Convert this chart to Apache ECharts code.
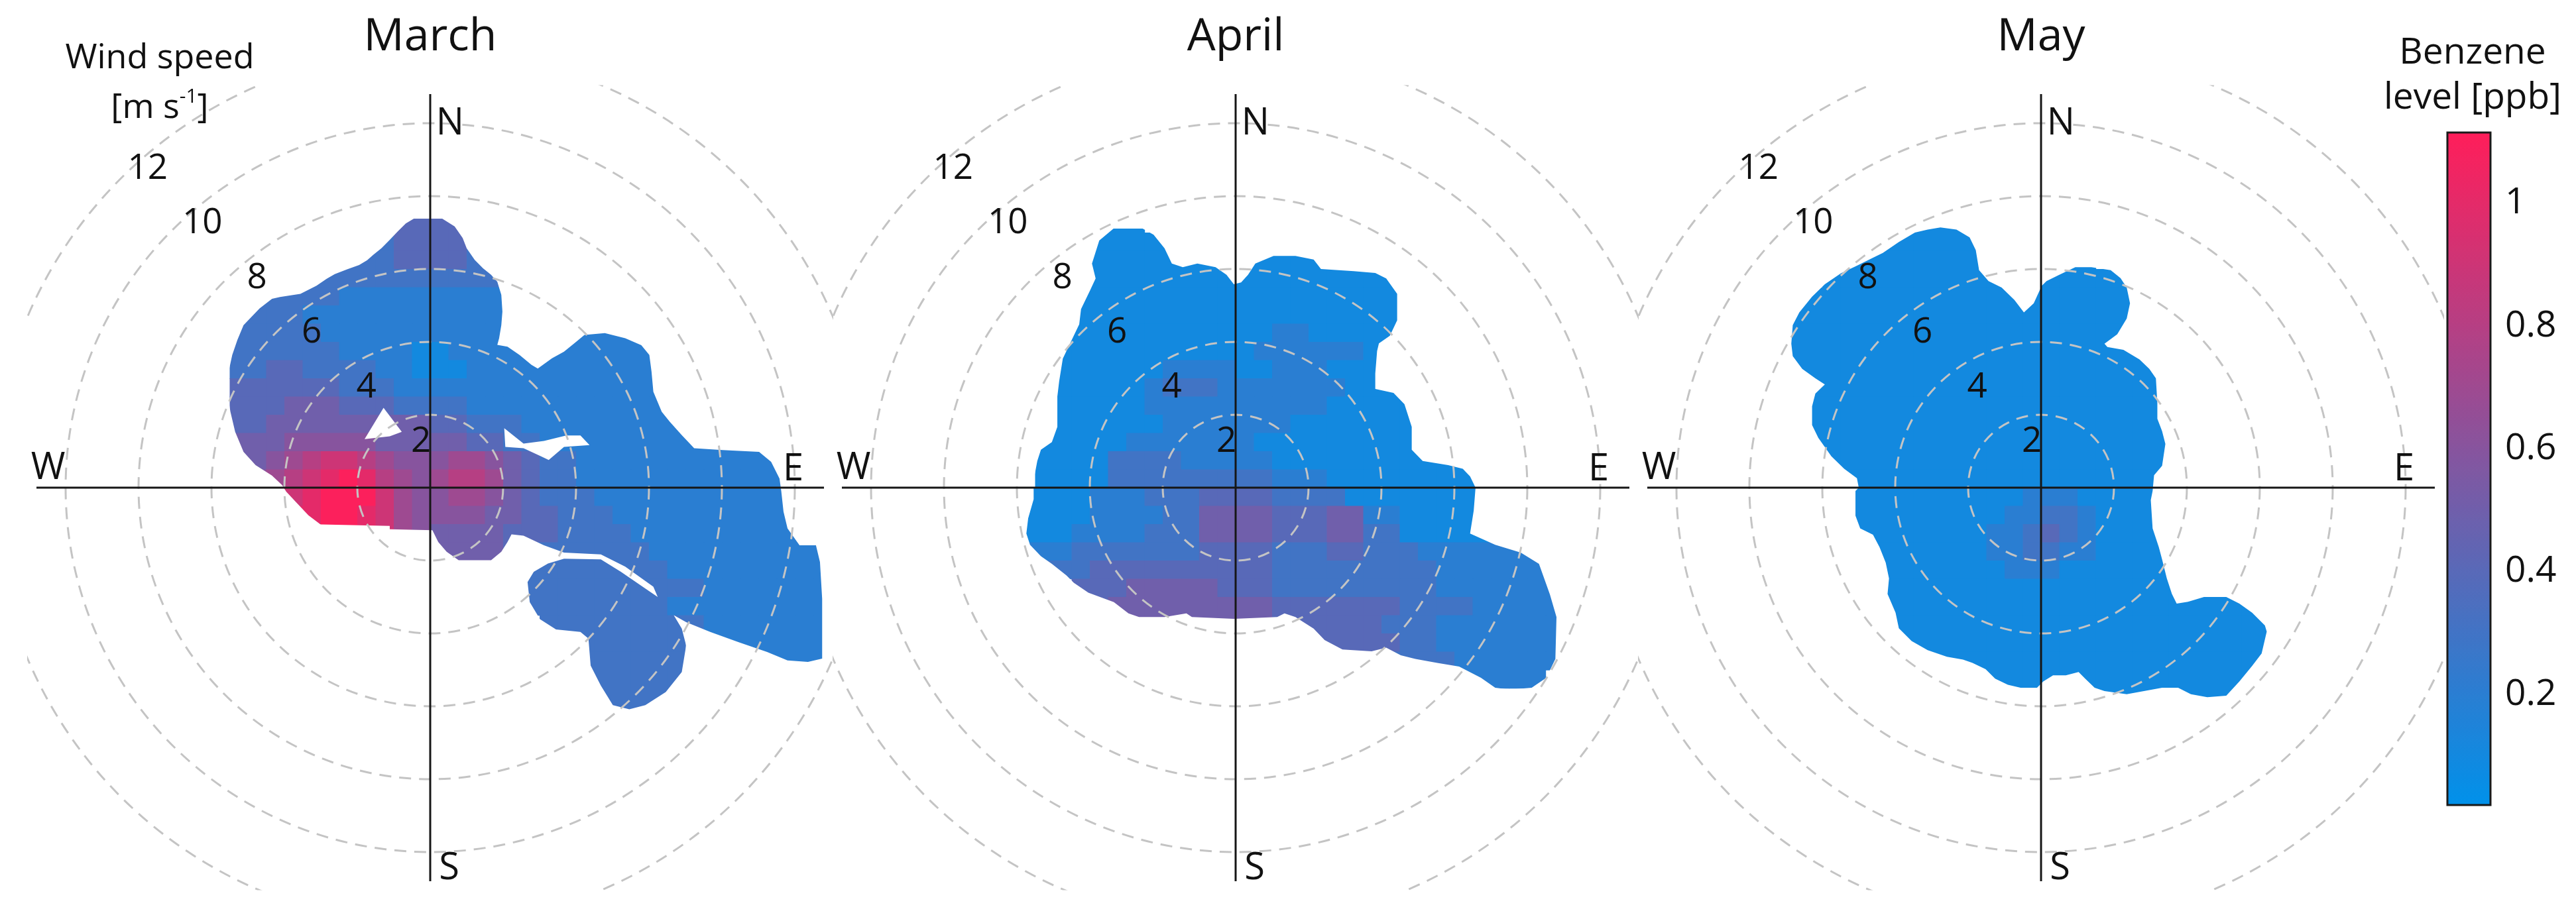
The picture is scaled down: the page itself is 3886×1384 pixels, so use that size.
<!DOCTYPE html>
<html>
<head>
<meta charset="utf-8">
<title>Benzene polar plots</title>
<script src="https://cdn.jsdelivr.net/npm/echarts@6/dist/echarts.min.js"></script>
<style>
  html, body { margin: 0; padding: 0; background: #fff; }
  #chart { width: 3886px; height: 1384px; }
</style>
</head>
<body>
<div id="chart"></div>
<script>
// ---- values ----
const months = ['March', 'April', 'May'];
const ringSpeeds = [2, 4, 6, 8, 10, 12];          // m/s
const compassPoints = [['N', 0, 1], ['E', 1, 0], ['S', 0, -1], ['W', -1, 0]];
const armLength = 10.8;                            // m/s
const colorTicks = [0.2, 0.4, 0.6, 0.8, 1];
const benzeneMin = 0.02;
const benzeneMax = 1.115;

// benzene surface on a 0.5 m/s (u, v) grid.
// each row: [first column, values]; one char per cell, hex digit / 10 = ppb
const cellSize = 0.5;
const marchOrigin = [-5.75, 7.25];
const marchRows = [
  [[10, '4444']],
  [[9, '344443']],
  [[7, '33344443']],
  [[5, '33333333333']],
  [[2, '33333222222222']],
  [[1, '333322222222222']],
  [[1, '333332222222222'], [20, '2222']],
  [[1, '333333222211222222222222']],
  [[1, '334433332211122222222222']],
  [[1, '444444333222222222222222']],
  [[1, '444555444333322222222222']],
  [[1, '4455555555544333222222222']],
  [[1, '55566666555554433222222222222']],
  [[1, '556789987666776543322222222222']],
  [[2, '6789ABA87678875433222222222222']],
  [[4, '9ABBB976677654333222222222222']],
  [[4, 'AABBA97666655443332222222222']],
  [[6, 'BBA976555544433332222222222']],
  [[12, '55554'], [17, '33333332222222222']],
  [[17, '33333333222222222']],
  [[17, '33333333332222222']],
  [[17, '33333333222222222']],
  [[18, '3333333332222222']],
  [[20, '333333'], [27, '2222222']],
  [[20, '333333'], [30, '2222']],
  [[20, '333333']],
  [[21, '33333']],
  [[22, '33']]
];
// outer edge of the surface and the gaps inside it, (u, v) in m/s
const marchOutline = [
  [-0.45, 7.38], [0.33, 7.38], [0.67, 7.17], [0.89, 6.85], [1.0, 6.57], [1.22, 6.25], [1.45, 6.02],
  [1.67, 5.84], [1.84, 5.65], [1.95, 5.29], [1.98, 4.83], [1.95, 4.46], [1.89, 4.1], [1.84, 3.92],
  [2.12, 3.87], [2.45, 3.64], [2.78, 3.37], [2.95, 3.27], [3.34, 3.55], [3.67, 3.73], [4.0, 4.0],
  [4.23, 4.19], [4.79, 4.24], [5.35, 4.1], [5.79, 3.91], [6.01, 3.64], [6.07, 3.18], [6.12, 2.63],
  [6.35, 2.08], [6.57, 1.81], [6.9, 1.44], [7.24, 1.08], [8.02, 1.03], [9.02, 0.98], [9.35, 0.71],
  [9.58, 0.25], [9.63, -0.11], [9.69, -0.66], [9.8, -1.12], [10.13, -1.58], [10.58, -1.58],
  [10.69, -2.04], [10.75, -3.05], [10.75, -4.69], [10.36, -4.78], [9.8, -4.74], [9.24, -4.51],
  [8.46, -4.24], [7.68, -3.96], [7.02, -3.69], [6.68, -3.5], [6.9, -3.87], [7.02, -4.33],
  [6.9, -5.06], [6.46, -5.61], [5.9, -5.97], [5.46, -6.08], [5.01, -5.97], [4.68, -5.43],
  [4.4, -4.88], [4.34, -4.14], [4.12, -3.96], [3.45, -3.89], [3.01, -3.61], [2.73, -3.14],
  [2.67, -2.59], [2.84, -2.31], [3.23, -2.08], [3.67, -1.95], [4.68, -1.97], [5.23, -2.31],
  [5.9, -2.77], [6.24, -3.0], [6.12, -2.72], [5.35, -2.17], [4.68, -1.83], [3.67, -1.78],
  [3.12, -1.58], [2.56, -1.32], [2.23, -1.28], [2.12, -1.49], [1.95, -1.76], [1.67, -1.99],
  [0.78, -1.99], [0.45, -1.76], [0.22, -1.49], [0.06, -1.17], [-1.11, -1.14], [-1.11, -1.05],
  [-3.01, -1.01], [-3.34, -0.76], [-3.67, -0.41], [-3.95, -0.11], [-4.06, 0.07], [-4.34, 0.33],
  [-4.79, 0.62], [-5.12, 0.98], [-5.35, 1.53], [-5.48, 2.08], [-5.57, 2.63], [-5.53, 3.18],
  [-5.43, 3.64], [-5.29, 4.05], [-5.12, 4.46], [-4.68, 4.92], [-4.34, 5.18], [-4.12, 5.23],
  [-3.56, 5.32], [-3.12, 5.54], [-2.84, 5.73], [-2.62, 5.86], [-2.28, 5.99], [-1.95, 6.11],
  [-1.73, 6.24], [-1.56, 6.39], [-1.34, 6.57], [-1.11, 6.8], [-0.89, 7.03], [-0.67, 7.25]
];
const marchHoles = [
  [[-1.28, 2.19], [-0.78, 1.53], [-1.11, 1.41], [-1.8, 1.33]],
  [[2.03, 1.63], [2.56, 1.21], [3.12, 1.28], [3.73, 1.43], [4.12, 1.43], [4.37, 1.17], [3.67, 1.12],
   [3.25, 0.76], [3.06, 0.85], [2.56, 1.08], [2.06, 1.12]]
];

const aprilOrigin = [-5.75, 7.25];
const aprilRows = [
  [[5, '11']],
  [[4, '11111']],
  [[4, '1111111111111']],
  [[4, '11111111111111111']],
  [[3, '111111111111111111']],
  [[3, '111111111111111111']],
  [[2, '1111111111112211111']],
  [[2, '111111111112222221']],
  [[2, '111111222211222111']],
  [[2, '1111123332222222111']],
  [[2, '11111222222222211111']],
  [[2, '11111122222221111111']],
  [[1, '111112222222111111111']],
  [[1, '111133332222211111111111']],
  [[1, '1111333333333222111111111']],
  [[0, '11112223334444333311111111']],
  [[0, '11112222335555444552211111']],
  [[0, '11122223335555444553311111']],
  [[0, '22233333334444333443332222222']],
  [[1, '3334444444444333333333222222']],
  [[3, '444555554443333333332222222']],
  [[4, '45555555554444444333322222']],
  [[6, '555555554444443332222222']],
  [[16, '44444332222222']],
  [[20, '3333222222']],
  [[24, '22222']]
];
const aprilOutline = [
  [-3.74, 6.78], [-3.35, 7.11], [-2.55, 7.11], [-2.25, 6.94], [-1.95, 6.57], [-1.75, 6.15],
  [-1.45, 6.05], [-1.05, 6.15], [-0.55, 6.05], [-0.25, 5.84], [-0.05, 5.58], [0.15, 5.63],
  [0.34, 5.84], [0.54, 6.15], [1.04, 6.36], [1.64, 6.36], [2.14, 6.26], [2.34, 6.0], [3.24, 5.94],
  [3.83, 5.89], [4.13, 5.74], [4.43, 5.32], [4.43, 4.59], [4.23, 4.17], [3.93, 3.96], [3.88, 3.75],
  [3.83, 3.13], [3.83, 2.71], [4.33, 2.6], [4.63, 2.29], [4.83, 1.67], [4.83, 1.04], [5.13, 0.73],
  [5.83, 0.62], [6.23, 0.52], [6.43, 0.31], [6.58, 0.0], [6.53, -0.63], [6.43, -1.26], [7.12, -1.57],
  [7.82, -1.78], [8.32, -2.09], [8.62, -2.93], [8.8, -3.55], [8.77, -4.7], [8.52, -5.22],
  [8.12, -5.49], [7.52, -5.54], [7.12, -5.49], [6.73, -5.22], [6.13, -4.91], [5.53, -4.81],
  [4.93, -4.7], [4.53, -4.6], [4.13, -4.39], [3.73, -4.49], [2.93, -4.44], [2.44, -4.18],
  [2.14, -3.87], [1.64, -3.55], [1.34, -3.45], [1.14, -3.55], [-0.05, -3.6], [-1.2, -3.55],
  [-1.35, -3.45], [-1.95, -3.55], [-2.65, -3.55], [-2.94, -3.45], [-3.34, -3.14], [-4.04, -2.88],
  [-4.44, -2.61], [-4.64, -2.41], [-5.04, -2.09], [-5.34, -1.88], [-5.64, -1.57], [-5.74, -1.26],
  [-5.69, -0.84], [-5.54, -0.32], [-5.54, 0.2], [-5.44, 0.73], [-5.34, 1.04], [-5.04, 1.25],
  [-4.89, 1.67], [-4.89, 2.5], [-4.84, 2.92], [-4.74, 3.54], [-4.54, 3.96], [-4.29, 4.48],
  [-4.24, 4.9], [-3.99, 5.42], [-3.84, 5.74], [-3.94, 6.15]
];
const aprilHoles = [];

const mayOrigin = [-6.75, 7.25];
const mayRows = [
  [[7, '111']],
  [[5, '111111']],
  [[3, '11111111'], [15, '11']],
  [[2, '1111111111'], [14, '11111']],
  [[1, '111111111111111111']],
  [[0, '1111111111111111111']],
  [[0, '1111111111111111111']],
  [[0, '11111111111111111111']],
  [[0, '111111111111111111111']],
  [[1, '11111111111111111111']],
  [[1, '11111111111111111111']],
  [[1, '11111111111111111111']],
  [[1, '11111111111111111111']],
  [[2, '1111111111111111111']],
  [[3, '111111111111111111']],
  [[3, '111111111122211111']],
  [[3, '111111111223321111']],
  [[4, '11111112234321111']],
  [[5, '1111112233221111']],
  [[5, '1111111222111111']],
  [[5, '11111111111111111']],
  [[5, '111111111111111111111']],
  [[6, '111111111111111111111']],
  [[6, '111111111111111111111']],
  [[7, '11111111111111111111']],
  [[10, '1111111111111111']],
  [[17, '11111111']]
];
const mayOutline = [
  [-3.11, 7.08], [-2.76, 7.14], [-2.32, 7.08], [-1.96, 6.87], [-1.79, 6.52], [-1.7, 5.97],
  [-1.44, 5.67], [-1.08, 5.49], [-0.73, 5.15], [-0.47, 4.81], [-0.2, 5.06], [0.02, 5.54],
  [0.15, 5.67], [0.5, 5.84], [0.94, 6.05], [1.38, 6.05], [1.91, 5.97], [2.18, 5.75], [2.35, 5.49],
  [2.44, 5.06], [2.35, 4.64], [2.09, 4.21], [1.74, 3.95], [1.82, 3.86], [2.26, 3.78], [2.7, 3.52],
  [2.97, 3.26], [3.15, 3.0], [3.19, 2.32], [3.19, 1.89], [3.32, 1.55], [3.41, 1.2], [3.32, 0.6],
  [3.1, 0.34], [3.06, -0.09], [3.01, -0.34], [3.06, -1.12], [3.23, -1.63], [3.32, -1.97],
  [3.45, -2.49], [3.59, -2.92], [3.72, -3.18], [4.03, -3.13], [4.47, -3.0], [5.08, -3.0],
  [5.44, -3.18], [5.79, -3.43], [6.14, -3.78], [6.19, -3.95], [6.05, -4.55], [5.79, -4.89],
  [5.44, -5.32], [5.08, -5.71], [4.56, -5.75], [4.11, -5.67], [3.76, -5.49], [3.32, -5.49],
  [2.35, -5.67], [1.74, -5.58], [1.47, -5.49], [1.21, -5.24], [1.03, -5.06], [0.68, -5.15],
  [0.33, -5.15], [0.06, -5.32], [-0.11, -5.49], [-0.56, -5.49], [-0.91, -5.41], [-1.26, -5.24],
  [-1.52, -4.98], [-1.88, -4.81], [-2.14, -4.72], [-2.58, -4.64], [-3.11, -4.46], [-3.55, -4.21],
  [-3.9, -3.86], [-3.99, -3.43], [-4.21, -2.92], [-4.17, -2.49], [-4.26, -2.06], [-4.43, -1.63],
  [-4.61, -1.29], [-4.96, -1.12], [-5.09, -0.77], [-5.09, -0.09], [-5.0, 0.0], [-5.05, 0.26],
  [-5.4, 0.52], [-5.75, 0.86], [-6.11, 1.37], [-6.28, 1.72], [-6.28, 2.23], [-6.19, 2.58],
  [-5.93, 2.83], [-6.19, 3.0], [-6.55, 3.26], [-6.81, 3.61], [-6.85, 3.95], [-6.81, 4.46],
  [-6.63, 4.81], [-6.28, 5.24], [-5.93, 5.58], [-5.49, 5.88], [-5.05, 6.09], [-4.61, 6.31],
  [-4.34, 6.44], [-3.9, 6.74], [-3.46, 7.0]
];
const mayHoles = [];

const panelData = [
  [marchOrigin, marchRows, marchOutline, marchHoles],
  [aprilOrigin, aprilRows, aprilOutline, aprilHoles],
  [mayOrigin, mayRows, mayOutline, mayHoles]
];

// ---- layout ----
const FONT = '"Open Sans", "Noto Sans", sans-serif';
const panelCentres = [649, 1864, 3079];
const centreY = 736;
const halfPanel = 607.5;     // px
const pxPerMs = 55;
const axisHalf = halfPanel / pxPerMs;
const labelAt = {            // compass letter anchors, m/s
  N: [0.16, 9.98, 'left'],
  E: [10.24, 0.49, 'right'],
  S: [0.24, -10.45, 'left'],
  W: [-10.95, 0.53, 'left']
};

function buildCells(origin, rows) {
  const out = [];
  rows.forEach(function (runs, r) {
    const v = origin[1] - r * cellSize;
    runs.forEach(function (run) {
      const vals = run[1];
      for (let k = 0; k < vals.length; k++) {
        out.push([origin[0] + (run[0] + k) * cellSize, v, parseInt(vals[k], 16) / 10]);
      }
    });
  });
  return out;
}

function textStyle(text, size, align, valign) {
  return {
    text: text, font: size + 'px ' + FONT, fill: '#111',
    align: align, textAlign: align,
    verticalAlign: valign, textVerticalAlign: valign
  };
}

function area(pts) {
  let s = 0;
  for (let i = 0; i < pts.length; i++) {
    const a = pts[i], b = pts[(i + 1) % pts.length];
    s += a[0] * b[1] - b[0] * a[1];
  }
  return s;
}

function renderCell(params, api) {
  const h = cellSize / 2;
  const p0 = api.coord([api.value(0) - h, api.value(1) + h]);
  const p1 = api.coord([api.value(0) + h, api.value(1) - h]);
  return {
    type: 'rect',
    shape: { x: p0[0], y: p0[1], width: p1[0] - p0[0] + 0.7, height: p1[1] - p0[1] + 0.7 },
    style: { fill: api.visual('color') }
  };
}

// white cover outside the surface edge (keyhole polygon) plus the inner gaps
function makeMask(outline, holes) {
  return function (params, api) {
    const a = api.coord([-axisHalf, axisHalf]);
    const b = api.coord([axisHalf, -axisHalf]);
    const rect = [[a[0], a[1]], [b[0], a[1]], [b[0], b[1]], [a[0], b[1]]];
    let edge = outline.map(function (p) { return api.coord(p); });
    if (area(edge) * area(rect) > 0) edge = edge.reverse();
    const children = [{
      type: 'polygon',
      shape: { points: rect.concat([rect[0]], edge, [edge[0]]) },
      style: { fill: '#ffffff' }
    }];
    holes.forEach(function (h) {
      children.push({ type: 'polygon', shape: { points: h.map(function (p) { return api.coord(p); }) },
        style: { fill: '#ffffff' } });
    });
    return { type: 'group', children: children };
  };
}

function renderRing(params, api) {
  const r = api.value(0);
  const c = api.coord([0, 0]);
  const rad = api.size([r, 0])[0];
  const lab = api.coord([-0.75 * r + 1.25, 0.75 * r - 0.25]);
  return {
    type: 'group',
    children: [
      { type: 'circle', shape: { cx: c[0], cy: c[1], r: rad },
        style: { fill: null, stroke: '#c4c4c4', lineWidth: 3, lineDash: [18, 12] } },
      { type: 'text', x: lab[0], y: lab[1], style: textStyle(String(r), 53, 'center', 'middle') }
    ]
  };
}

function renderCompass(params, api) {
  const name = compassPoints[params.dataIndex][0];
  const c = api.coord([0, 0]);
  const p = api.coord([api.value(0) * armLength, api.value(1) * armLength]);
  const la = labelAt[name];
  const lp = api.coord([la[0], la[1]]);
  return {
    type: 'group',
    children: [
      { type: 'line', shape: { x1: c[0], y1: c[1], x2: p[0], y2: p[1] },
        style: { stroke: '#161616', lineWidth: 3 } },
      { type: 'text', x: lp[0], y: lp[1], style: textStyle(name, 56, la[2], 'middle') }
    ]
  };
}

const grids = [], xAxes = [], yAxes = [], series = [], cellSeries = [];
months.forEach(function (m, k) {
  const pd = panelData[k];
  grids.push({ left: panelCentres[k] - halfPanel, top: centreY - halfPanel,
    width: 2 * halfPanel, height: 2 * halfPanel, containLabel: false });
  xAxes.push({ type: 'value', gridIndex: k, min: -axisHalf, max: axisHalf, show: false });
  yAxes.push({ type: 'value', gridIndex: k, min: -axisHalf, max: axisHalf, show: false });
  const base = { type: 'custom', coordinateSystem: 'cartesian2d', xAxisIndex: k, yAxisIndex: k,
    encode: { x: 0, y: 1 }, silent: true };
  cellSeries.push(series.length);
  series.push(Object.assign({}, base, { name: m, data: buildCells(pd[0], pd[1]),
    renderItem: renderCell, z: 1, clip: true }));
  series.push(Object.assign({}, base, { data: [[0, 0]], renderItem: makeMask(pd[2], pd[3]), z: 2 }));
  series.push(Object.assign({}, base, { data: ringSpeeds.map(function (r) { return [r, 0]; }),
    renderItem: renderRing, z: 3, clip: true }));
  series.push(Object.assign({}, base, { data: compassPoints.map(function (p) { return [p[1], p[2]]; }),
    renderItem: renderCompass, z: 4 }));
});

// colour bar axis
const barLeft = 3692, barTop = 200, barW = 65, barH = 1015;
grids.push({ left: barLeft, top: barTop, width: barW, height: barH, show: true, z: 10,
  borderColor: '#1a1a1a', borderWidth: 3, backgroundColor: 'transparent' });
xAxes.push({ type: 'value', gridIndex: 3, show: false });
yAxes.push({
  type: 'value', gridIndex: 3, position: 'right', min: benzeneMin, max: benzeneMax,
  axisLine: { show: false }, splitLine: { show: false },
  axisTick: { show: true, customValues: colorTicks, length: 11, lineStyle: { color: '#1a1a1a', width: 3 } },
  axisLabel: { customValues: colorTicks, margin: 22, fontSize: 55, fontFamily: FONT, color: '#111' }
});

const graphics = months.map(function (m, k) {
  return { type: 'text', z: 100, x: panelCentres[k], y: 57, style: textStyle(m, 68, 'center', 'middle') };
});
graphics.push({ type: 'text', z: 100, x: 241, y: 88, style: textStyle('Wind speed', 52, 'center', 'middle') });
graphics.push({ type: 'text', z: 100, x: 241, y: 163, style: Object.assign(textStyle('{a|[m s}{s|-1}{a|]}', 52, 'center', 'middle'), {
  rich: {
    a: { font: '52px ' + FONT, fill: '#111', lineHeight: 64 },
    s: { font: '30px ' + FONT, fill: '#111', lineHeight: 36, verticalAlign: 'top' }
  }
}) });
graphics.push({ type: 'text', z: 100, x: 3730, y: 80, style: textStyle('Benzene', 55, 'center', 'middle') });
graphics.push({ type: 'text', z: 100, x: 3730, y: 148, style: textStyle('level [ppb]', 55, 'center', 'middle') });

const chart = echarts.init(document.getElementById('chart'), null, { renderer: 'canvas' });
chart.setOption({
  animation: false,
  backgroundColor: '#ffffff',
  grid: grids,
  xAxis: xAxes,
  yAxis: yAxes,
  visualMap: {
    type: 'continuous', min: benzeneMin, max: benzeneMax, dimension: 2,
    seriesIndex: cellSeries, calculable: false, orient: 'vertical',
    left: barLeft, top: barTop, itemWidth: barW, itemHeight: barH, padding: 0,
    text: null, showLabel: false,
    inRange: { color: ['#0091EA', '#FF1E5A'] }
  },
  graphic: graphics,
  series: series
});
</script>
</body>
</html>
